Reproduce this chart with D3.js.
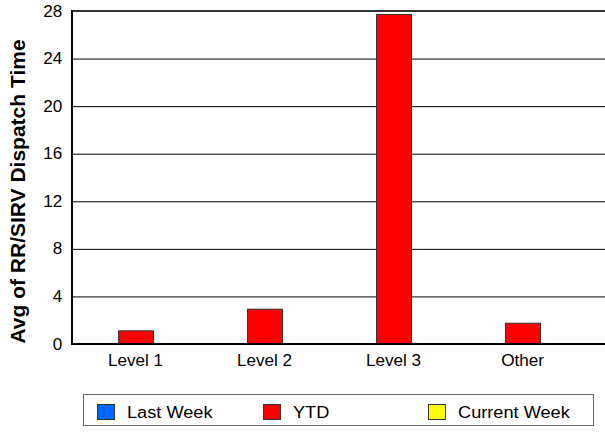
<!DOCTYPE html>
<html>
<head>
<meta charset="utf-8">
<script src="https://cdn.jsdelivr.net/npm/d3@7"></script>
<style>
  body { margin: 0; background: #fff; }
  svg { display: block; font-family: "Liberation Sans", Arial, sans-serif; }
</style>
</head>
<body>
<div id="chart"></div>
<script>
// chart data
var categories = ["Level 1", "Level 2", "Level 3", "Other"];
var seriesNames = ["Last Week", "YTD", "Current Week"];
var lastWeek = [0, 0, 0, 0];
var ytd = [1.15, 2.97, 27.75, 1.79];
var currentWeek = [0, 0, 0, 0];
var yTicks = [0, 4, 8, 12, 16, 20, 24, 28];
var seriesColors = ["#0066ff", "#ff0000", "#ffff00"];

function draw(){
    var W = 605, H = 436;
    var plot = { left: 72, top: 11, bottom: 344, right: 610 };
    // the original text is a touch wider than it is tall
    var stretch = "scale(1.07,1)";

    var rows = categories.map(function(c, i){
        return { cat: c, vals: [lastWeek[i], ytd[i], currentWeek[i]] };
    });

    var svg = d3.select("#chart").append("svg")
        .attr("width", W)
        .attr("height", H);

    var x0 = d3.scaleBand()
        .domain(categories)
        .range([71, 587]);

    var x1 = d3.scaleBand()
        .domain(seriesNames)
        .range([12, x0.bandwidth() - 12]);

    var y = d3.scaleLinear()
        .domain([0, 28])
        .range([plot.bottom, plot.top]);

    // gridlines
    svg.append("g")
        .selectAll("line")
        .data(yTicks.filter(function(t){ return t > 0 && t < 28; }))
        .enter().append("line")
        .attr("x1", plot.left).attr("x2", plot.right)
        .attr("y1", function(d){ return y(d) + 0.5; })
        .attr("y2", function(d){ return y(d) + 0.5; })
        .style("stroke", "#000")
        .style("stroke-width", 1);

    // top border
    svg.append("line")
        .attr("x1", plot.left).attr("x2", plot.right)
        .attr("y1", plot.top).attr("y2", plot.top)
        .style("stroke", "#333")
        .style("stroke-width", 2);

    // bars
    var groups = svg.append("g").selectAll("g")
        .data(rows)
        .enter().append("g")
        .attr("transform", function(d){ return "translate(" + x0(d.cat) + ",0)"; });

    groups.selectAll("rect")
        .data(function(d){
            return d.vals.map(function(v, i){ return { name: seriesNames[i], value: v, color: seriesColors[i] }; });
        })
        .enter().filter(function(d){ return d.value > 0; })
        .append("rect")
        .attr("x", function(d){ return x1(d.name) + 0.5; })
        .attr("width", x1.bandwidth())
        .attr("y", function(d){ return y(d.value) + 0.5; })
        .attr("height", function(d){ return y(0) - y(d.value); })
        .style("fill", function(d){ return d.color; })
        .style("stroke", "#333")
        .style("stroke-width", 1);

    // y axis
    var yAxis = svg.append("g")
        .attr("transform", "translate(" + plot.left + ",0)")
        .call(d3.axisLeft(y).tickValues(yTicks).tickSize(0).tickPadding(9));
    yAxis.select(".domain").remove();
    yAxis.selectAll("text")
        .attr("transform", stretch)
        .style("font-size", "16px")
        .style("font-family", "'Liberation Sans', Arial, sans-serif")
        .attr("fill", "#000");

    svg.append("line")
        .attr("x1", plot.left).attr("x2", plot.left)
        .attr("y1", plot.top - 1).attr("y2", plot.bottom + 1)
        .style("stroke", "#000")
        .style("stroke-width", 2);

    // x axis
    var xAxis = svg.append("g")
        .attr("transform", "translate(0," + plot.bottom + ")")
        .call(d3.axisBottom(x0).tickSize(0).tickPadding(11));
    xAxis.select(".domain").remove();
    xAxis.selectAll("text")
        .attr("transform", stretch)
        .style("font-size", "16px")
        .style("font-family", "'Liberation Sans', Arial, sans-serif")
        .attr("fill", "#000");

    svg.append("line")
        .attr("x1", plot.left).attr("x2", plot.right)
        .attr("y1", plot.bottom).attr("y2", plot.bottom)
        .style("stroke", "#000")
        .style("stroke-width", 2);

    // y title
    svg.append("text")
        .attr("transform", "translate(25," + ((plot.top + plot.bottom) / 2 + 14) + ") rotate(-90)")
        .attr("text-anchor", "middle")
        .style("font-size", "21px")
        .style("font-weight", "bold")
        .text("Avg of RR/SIRV Dispatch Time");

    // legend
    var legend = svg.append("g");
    legend.append("rect")
        .attr("x", 83.5).attr("y", 394.5)
        .attr("width", 510).attr("height", 31)
        .style("fill", "#fff")
        .style("stroke", "#666")
        .style("stroke-width", 1);

    var legendX = [97, 263, 428];
    var items = legend.selectAll("g.item")
        .data(seriesNames)
        .enter().append("g")
        .attr("class", "item")
        .attr("transform", function(d, i){ return "translate(" + legendX[i] + ",404)"; });
    items.append("rect")
        .attr("x", 0.5).attr("y", 0.5)
        .attr("width", 17).attr("height", 15)
        .style("fill", function(d, i){ return seriesColors[i]; })
        .style("stroke", "#333");
    items.append("g")
        .attr("transform", "translate(30,14) " + stretch)
      .append("text")
        .style("font-size", "17px")
        .text(function(d){ return d; });
}
draw();
</script>
</body>
</html>
